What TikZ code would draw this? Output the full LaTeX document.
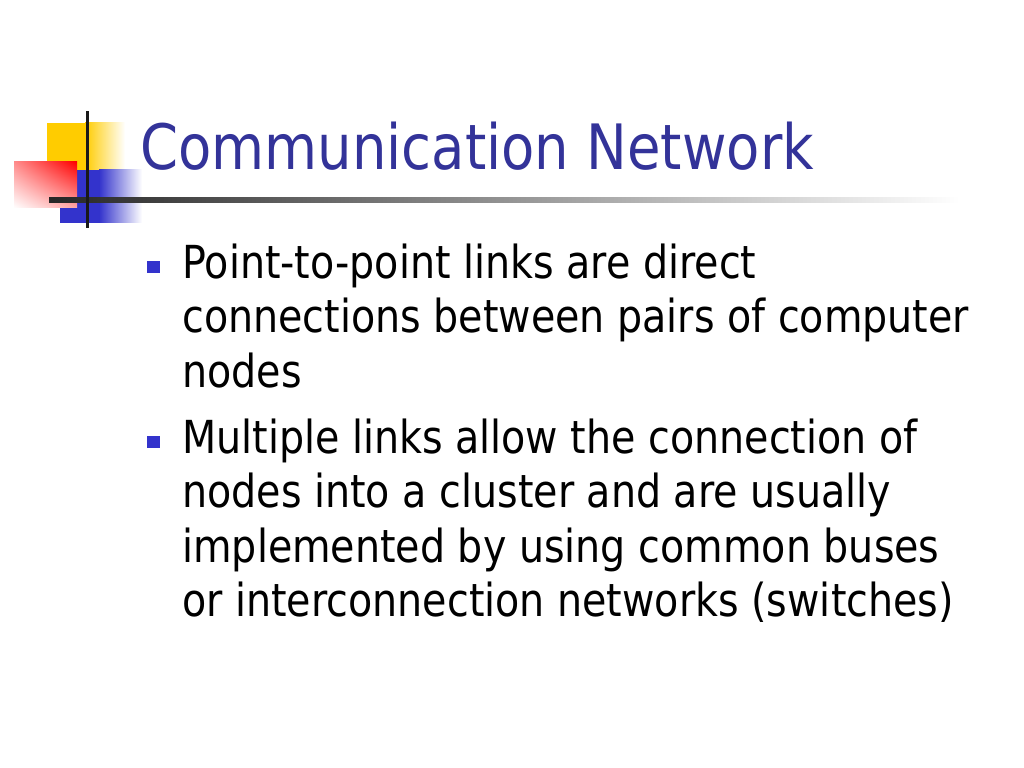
\documentclass[tikz,border=0pt]{standalone}
\usepackage{fontspec}
\setmainfont{DejaVu Sans}[FakeStretch=0.87]
\usetikzlibrary{positioning, shadings}
\definecolor{titleblue}{HTML}{333399}
\definecolor{logoblue}{HTML}{3333CC}
\definecolor{logoyellow}{HTML}{FFCC00}
\newcommand{\bodyx}{182}
\newcommand{\bulletx}{153.5}
\tikzset{
	slidetitle/.style={anchor=base west, inner sep=0pt, text=titleblue, font=\fontsize{44}{52}\selectfont},
	slidebody/.style={anchor=base west, inner sep=0pt, align=left, font=\fontsize{32}{38.3}\selectfont},
	bulletsq/.style={fill=logoblue, minimum size=8.8pt, inner sep=0pt},
}
\begin{document}
\begin{tikzpicture}[x=0.703125pt, y=-0.703125pt]
	\useasboundingbox (0,0) rectangle (1024,768);
		% logo in the corner
		\fill[logoyellow] (47,123) rectangle (86,170);
		\shade[left color=logoyellow, right color=white] (85,123) rectangle (125,170);
		\fill[logoblue] (60,170) rectangle (100,223);
		\shade[left color=logoblue, right color=white] (99,170) rectangle (142,223);
		\shade[upper right=red, upper left=red!45, lower right=red!35, lower left=white] (14,162) rectangle (77,208);
		\shade[left color=black!85, middle color=black!28, right color=white] (49,198) rectangle (960,203);
		\fill[black!90] (85.5,111) rectangle (88.5,228);
		% title
		\node[slidetitle] (title) at (140,170) {Communication Network};
		% bullet points (base = last line)
		\node[slidebody] (pointA) at (\bodyx,387) {Point-to-point links are direct\\connections between pairs of computer\\nodes};
		\node[slidebody] (pointB) at (\bodyx,616.5) {Multiple links allow the connection of\\nodes into a cluster and are usually\\implemented by using common buses\\or interconnection networks (switches)};
		\node[bulletsq] (bulletA) at (\bulletx,267) {};
		\node[bulletsq] (bulletB) at (\bulletx,442) {};
\end{tikzpicture}
\end{document}
